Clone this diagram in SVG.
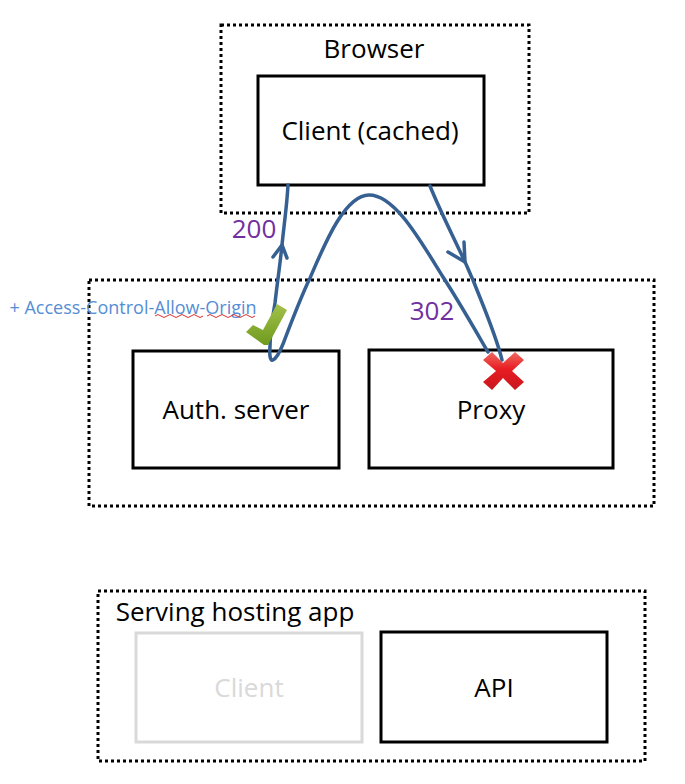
<svg xmlns="http://www.w3.org/2000/svg" width="685" height="784" viewBox="0 0 685 784">
<defs>
<linearGradient id="chk" x1="0" y1="0" x2="0" y2="1"><stop offset="0" stop-color="#a3c24a"/><stop offset="1" stop-color="#6f9a1e"/></linearGradient>
<linearGradient id="crs" x1="0" y1="0" x2="0" y2="1"><stop offset="0" stop-color="#ee6a62"/><stop offset="0.45" stop-color="#e81c22"/><stop offset="1" stop-color="#c8161e"/></linearGradient>
</defs>
<style>
text{font-family:"Open Sans","Noto Sans","Liberation Sans",sans-serif;text-anchor:middle}
.group{fill:none;stroke:#000;stroke-width:3;stroke-dasharray:3 3}
.box{fill:#fff;stroke:#000;stroke-width:3}
.label{font-size:26px;fill:#000}
.faded{font-size:26px;fill:#d9d9d9}
.code{font-size:26px;fill:#7030a0}
.conn{fill:none;stroke:#366092;stroke-width:3.5;stroke-linecap:round;stroke-linejoin:round}
</style>
<rect width="685" height="784" fill="#fff"/>
<g id="browser"><rect class="group" x="221" y="25" width="308" height="188"/><text class="label" x="374" y="58">Browser</text></g>
<g id="server-group"><rect class="group" x="89" y="280" width="565" height="226"/></g>
<g id="hosting"><rect class="group" x="98" y="591" width="547" height="170"/><text class="label" x="235" y="621">Serving hosting app</text></g>
<g id="client-cached"><rect class="box" x="258" y="76" width="226" height="109"/><text class="label" x="370" y="140">Client (cached)</text></g>
<g id="auth"><rect class="box" x="133" y="351" width="206" height="117"/><text class="label" x="236" y="419">Auth. server</text></g>
<g id="proxy"><rect class="box" x="369" y="350" width="244" height="118"/><text class="label" x="491" y="419">Proxy</text></g>
<g id="client"><rect x="136" y="633" width="226" height="109" fill="#fff" stroke="#d9d9d9" stroke-width="3"/><text class="faded" x="249" y="697">Client</text></g>
<g id="api"><rect class="box" x="381" y="632" width="226" height="110"/><text class="label" x="494" y="697">API</text></g>
<text x="133" y="314" style="font-size:18px;fill:#558ed5">+ Access-Control-Allow-Origin</text>
<path d="M155 316 q3 -3 6 0 t6 0 t6 0 t6 0 t6 0 t6 0 t6 0 t6 0 M207 316 q3 -3 6 0 t6 0 t6 0 t6 0 t6 0 t6 0 t6 0 t6 0" fill="none" stroke="#e03030" stroke-width="1"/>
<g id="connectors">
<path class="conn" d="M288 185 C287 205 284 225 282 245 C280 265 277 285 275 303 C272 320 270 335 270 347 C269 358 271 361 273 360 C277 358 281 349 283 344 C291 323 300 299 310 278 C325 243 345 195 369 195 C395 195 420 240 443 277 C458 300 474 328 488 352"/>
<path class="conn" d="M430 186 C441 213 454 238 465 262 C468 268 470 274 473 280 C484 308 496 335 502 360"/>
<path class="conn" d="M273 257 L282 245 L287 258"/>
<path class="conn" d="M448 252 L465 262 L464 242"/>
</g>
<g id="check"><path d="M246 332 L253 325 L263 330 L277 304 L287 310 L268 345 L264 345 Z" fill="url(#chk)"/></g>
<g id="cross"><path d="M483 360 L492 352 L503 363 L515 352 L524 360 L512 371 L524 382 L515 390 L503 378 L492 390 L483 382 L496 371 Z" fill="url(#crs)"/></g>
<text class="code" x="254" y="238">200</text>
<text class="code" x="432" y="320">302</text>
</svg>
